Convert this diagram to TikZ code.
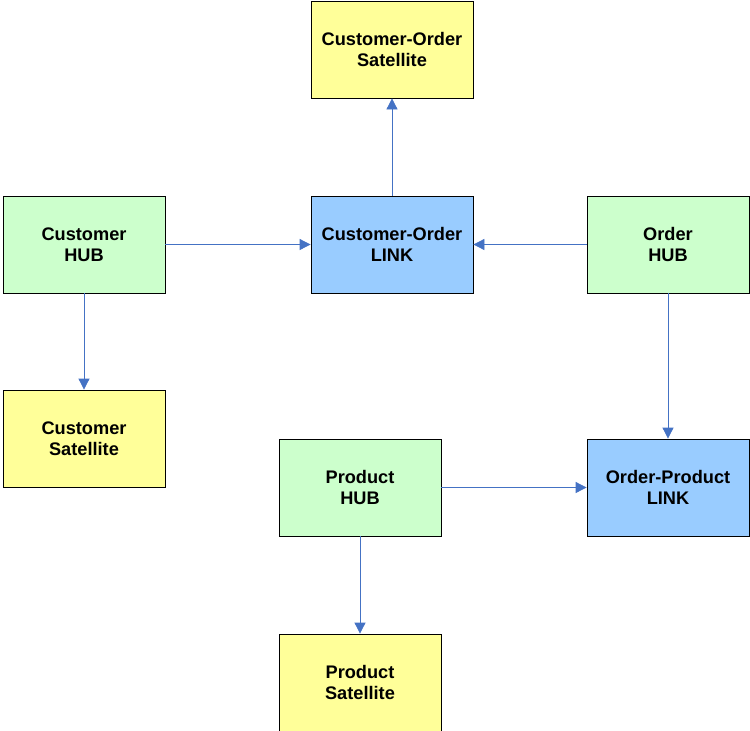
\documentclass[tikz,border=0pt]{standalone}
\usepackage{fontspec}
\setmainfont{Liberation Sans}
\usetikzlibrary{positioning, shapes.geometric, arrows.meta}
\definecolor{hubgreen}{HTML}{CCFFCC}
\definecolor{satyellow}{HTML}{FFFF99}
\definecolor{linkblue}{HTML}{99CCFF}
\definecolor{arrblue}{HTML}{4472C4}

\begin{document}
\begin{tikzpicture} [x=1pt, y=-1pt,
  box/.style={draw, line width=0.8pt, minimum width=162pt, minimum height=97pt,
    align=center, font=\fontsize{18.2}{21.5}\selectfont\bfseries},
  hub/.style={box, fill=hubgreen},
  sat/.style={box, fill=satyellow},
  lnk/.style={box, fill=linkblue},
  conn/.style={draw=arrblue, line width=0.8pt, -{Triangle[length=11pt,width=11pt]}}]
  \useasboundingbox (0,0) rectangle (750,731);

  \draw (392,49.5) node[sat] (cosat) {Customer-Order\\Satellite};
  \draw (84,244.5) node[hub] (custhub) {Customer\\HUB};
  \draw (392,244.5) node[lnk] (colink) {Customer-Order\\LINK};
  \draw (668,244.5) node[hub] (ordhub) {Order\\HUB};
  \draw (84,438.5) node[sat] (custsat) {Customer\\Satellite};
  \draw (360,487.5) node[hub] (prodhub) {Product\\HUB};
  \draw (668,487.5) node[lnk] (oplink) {Order-Product\\LINK};
  \draw (360,682.5) node[sat] (prodsat) {Product\\Satellite};

  \path (custhub) edge[conn] (colink)
        (ordhub) edge[conn] (colink)
        (colink) edge[conn] (cosat)
        (custhub) edge[conn] (custsat)
        (ordhub) edge[conn] (oplink)
        (prodhub) edge[conn] (oplink)
        (prodhub) edge[conn] (prodsat);
\end{tikzpicture}
\end{document}
